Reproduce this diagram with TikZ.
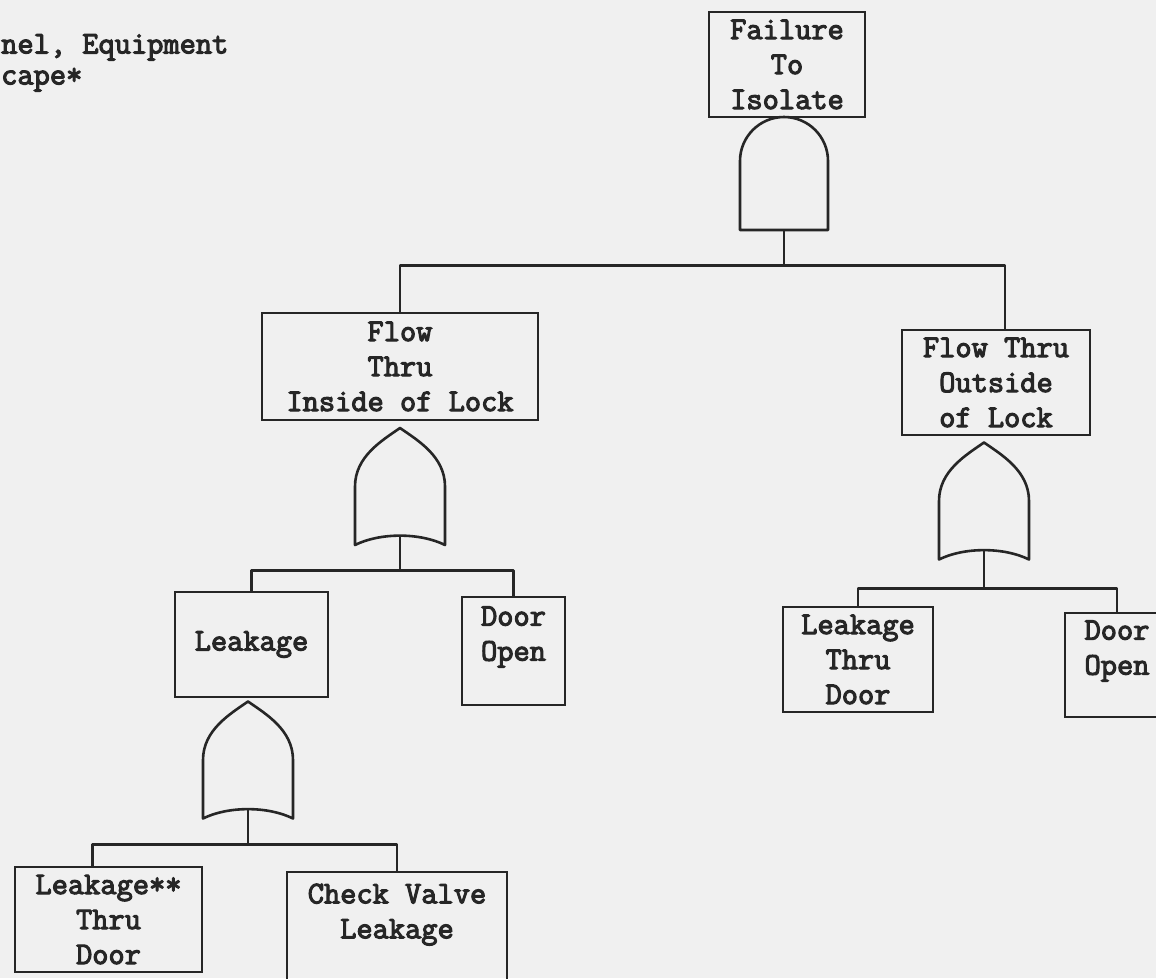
\documentclass[tikz,border=0pt]{standalone}
\usepackage{fontspec}
\setmonofont{Latin Modern Mono}[AutoFakeBold=3.5]
\usetikzlibrary{calc}
\definecolor{ink}{HTML}{262626}
\definecolor{paper}{HTML}{F0F0F0}
\tikzset{
  wire/.style={draw=ink, line width=2.6pt, line join=round},
  box/.style={draw=ink, line width=2.6pt, rectangle, inner sep=0pt, align=center,
    text=ink, font=\ttfamily\bfseries\fontsize{31.5}{35}\selectfont},
  orgate/.style={rectangle, inner sep=0pt, minimum width=90pt, minimum height=117pt},
  andgate/.style={rectangle, inner sep=0pt, minimum width=88pt, minimum height=113pt},
  freetext/.style={anchor=north west, inner sep=0pt, align=left, text=ink, font=\ttfamily\bfseries\fontsize{31.5}{31}\selectfont}
}
\begin{document}
\begin{tikzpicture}[x=1pt,y=-1pt]
\fill[paper] (0,0) rectangle (1156,978);
\useasboundingbox (0,0) rectangle (1156,978);

% free text
\node[freetext] (t1) at (1,34) {nel, Equipment\\cape*};

% event boxes
\node[box, minimum width=156pt, minimum height=105pt] (b1) at (787,64.5) {Failure\\To\\Isolate};
\node[box, minimum width=276pt, minimum height=107pt] (b2) at (400,366.5) {Flow\\Thru\\Inside of Lock};
\node[box, minimum width=188pt, minimum height=105pt] (b3) at (996,382.5) {Flow Thru\\Outside\\of Lock};
\node[box, minimum width=153pt, minimum height=105pt] (b4) at (251.5,644.5) {Leakage};
\node[box, minimum width=103pt, minimum height=108pt] (b5) at (513.5,651) {Door\\Open\\\mbox{}};
\node[box, minimum width=150pt, minimum height=105pt] (b6) at (858,659.5) {Leakage\\Thru\\Door};
\node[box, minimum width=104pt, minimum height=104pt] (b7) at (1117,665) {Door\\Open\\\mbox{}};
\node[box, minimum width=187pt, minimum height=105pt] (b8) at (108.5,919.5) {Leakage**\\Thru\\Door};
\node[box, minimum width=220pt, minimum height=113pt] (b9) at (397,928.5) {Check Valve\\Leakage\\\mbox{}};

% gates
\node[andgate] (g1) at (784,173.5) {};
\node[orgate] (g2) at (400,486.5) {};
\node[orgate] (g3) at (248,760) {};
\node[orgate] (g4) at (984,501) {};

\begin{scope}[shift={(g1.center)}]
  \draw[wire] (-44,56.5) -- (-44,-12.5)
    .. controls (-44,-36.8) and (-24.3,-56.5) .. (0,-56.5)
    .. controls (24.3,-56.5) and (44,-36.8) .. (44,-12.5)
    -- (44,56.5) -- cycle;
\end{scope}
\foreach \g in {g2,g3,g4}{
  \begin{scope}[shift={(\g.center)}]
    \draw[wire] (-45,58.5) -- (-45,0)
      .. controls (-45,-30) and (-18,-46) .. (0,-58.5)
      .. controls (18,-46) and (45,-30) .. (45,0)
      -- (45,58.5)
      .. controls (20,46) and (-20,46) .. (-45,58.5) -- cycle;
  \end{scope}
}

% gate outputs and junctions
\coordinate (g2o) at ($(g2.south)+(0,-9.5)$);
\coordinate (g3o) at ($(g3.south)+(0,-9.5)$);
\coordinate (g4o) at ($(g4.south)+(0,-9.5)$);
\coordinate (j1) at ($(g1.south)+(0,35)$);
\coordinate (j2) at ($(g2o)+(0,35)$);
\coordinate (j3) at ($(g3o)+(0,35)$);
\coordinate (j4) at ($(g4o)+(0,38)$);
\coordinate (b3t) at ($(b3.north)+(9,0)$);
\coordinate (b8t) at ($(b8.north)+(-16,0)$);

% connectors
\draw[wire] (g1.south) -- (j1);
\draw[wire] (b2.north) |- (j1) -| (b3t);
\draw[wire] (g2o) -- (j2);
\draw[wire] (b4.north) |- (j2) -| (b5.north);
\draw[wire] (g3o) -- (j3);
\draw[wire] (b8t) |- (j3) -| (b9.north);
\draw[wire] (g4o) -- (j4);
\draw[wire] (b6.north) |- (j4) -| (b7.north);
\end{tikzpicture}
\end{document}
